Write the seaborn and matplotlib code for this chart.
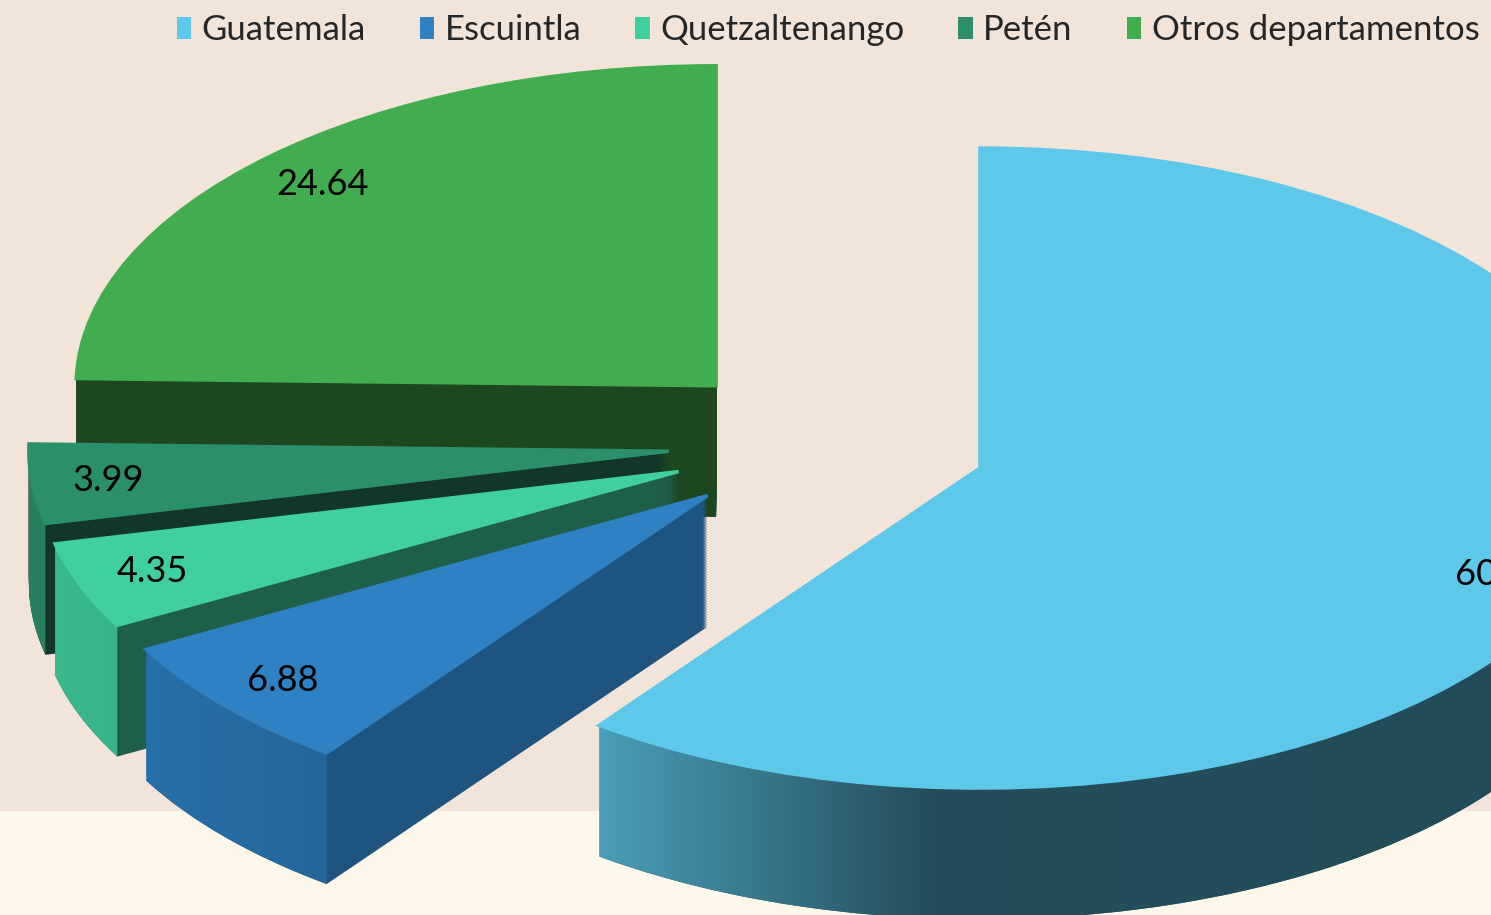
import numpy as np
import seaborn as sns
import matplotlib.pyplot as plt
from matplotlib.patches import Patch, PathPatch, Rectangle
from matplotlib.path import Path
from matplotlib.colors import to_rgb

#######################################
# data
#######################################
departamentos = ['Guatemala', 'Escuintla', 'Quetzaltenango', 'Petén', 'Otros departamentos']
porcentajes = [60.14, 6.88, 4.35, 3.99, 24.64]

colores = ['#5DC8EA', '#2E81C3', '#40CF9F', '#2B8F6A', '#41AD4F']   # top faces
caras = ['#254F5E', '#1F5480', '#1F5E48', '#12362A', '#1C4720']     # cut faces (sides)

#######################################
# style
#######################################
sns.set_theme(style='white')
plt.rcParams['font.family'] = ['Lato', 'DejaVu Sans']

fig = plt.figure(figsize=(14.91, 9.15), dpi=100)
fig.patch.set_facecolor('#FEF8EB')
fig.add_artist(Rectangle((0, 1 - 811 / 915), 1, 811 / 915, transform=fig.transFigure,
                         facecolor='#F2E4D8', edgecolor='none', zorder=-1))
ax = fig.add_axes([0, 0, 1, 1])
ax.set_facecolor('none')

explode = [0.25] * len(porcentajes)
depth = 0.41

#######################################
# body of the 3d pie: stacked layers
#######################################
for d in np.linspace(depth, 0, 83)[:-1]:
    ax.pie(porcentajes, colors=caras, startangle=90, counterclock=False,
           explode=explode, center=(0, -d),
           wedgeprops=dict(linewidth=0, zorder=1))

#######################################
# outer walls with shading
#######################################
frac = np.array(porcentajes) / sum(porcentajes)
bordes = 90 - 360 * np.concatenate([[0], np.cumsum(frac)])
for i in range(len(porcentajes)):
    t_hi, t_lo = bordes[i], bordes[i + 1]
    mid = np.deg2rad((t_hi + t_lo) / 2)
    cx, cy = explode[i] * np.cos(mid), explode[i] * np.sin(mid)
    a0, a1 = max(t_lo, -180), min(t_hi, 0)
    if a1 <= a0:
        continue
    t = np.deg2rad(np.linspace(a0, a1, 200))
    xs = cx + np.cos(t)
    ys = cy + np.sin(t)
    verts = np.concatenate([np.column_stack([xs, ys]),
                            np.column_stack([xs[::-1], ys[::-1] - depth])])
    clip = PathPatch(Path(verts), transform=ax.transData)
    gx = np.linspace(xs.min(), xs.max(), 600)
    u = np.clip(cx - gx, -1, 1)
    f = np.interp(u, [-1, 0.08, 0.594, 1.0], [0.38, 0.39, 0.79, 0.9])
    img = np.clip(np.array(to_rgb(colores[i]))[None, None, :] * f[None, :, None], 0, 1)
    img = np.repeat(img, 2, axis=0)
    im = ax.imshow(img, extent=[gx.min(), gx.max(), ys.min() - depth, ys.max()],
                   aspect='auto', interpolation='bilinear', zorder=2)
    im.set_clip_path(clip)

#######################################
# top faces with labels
#######################################
wedges, texts, autotexts = ax.pie(porcentajes, colors=colores, startangle=90, counterclock=False,
                                  explode=explode, autopct='%.2f', pctdistance=0.88,
                                  wedgeprops=dict(linewidth=2.5, zorder=3),
                                  textprops=dict(fontsize=26, color='black'))
for w in wedges:
    w.set_edgecolor(w.get_facecolor())
for t in autotexts:
    t.set_zorder(4)
# big slice label sits at the cropped right edge, as in the original
autotexts[0].set_ha('left')
autotexts[0].set_position((0.98, -0.41))

ax.set_aspect('auto')
ax.set_xlim(-828 / 640, 663 / 640)
ax.set_ylim(-472 / 320, 443 / 320)
ax.axis('off')

#######################################
# legend
#######################################
handles = [Patch(facecolor=c, edgecolor='none') for c in colores]
fig.legend(handles, departamentos, loc='center', bbox_to_anchor=(828 / 1491, 1 - 30 / 915),
           ncol=5, frameon=False, fontsize=25, handlelength=0.42, handleheight=0.58,
           handletextpad=0.3, columnspacing=1.55)

plt.savefig('out.png', dpi=100, facecolor=fig.get_facecolor())
